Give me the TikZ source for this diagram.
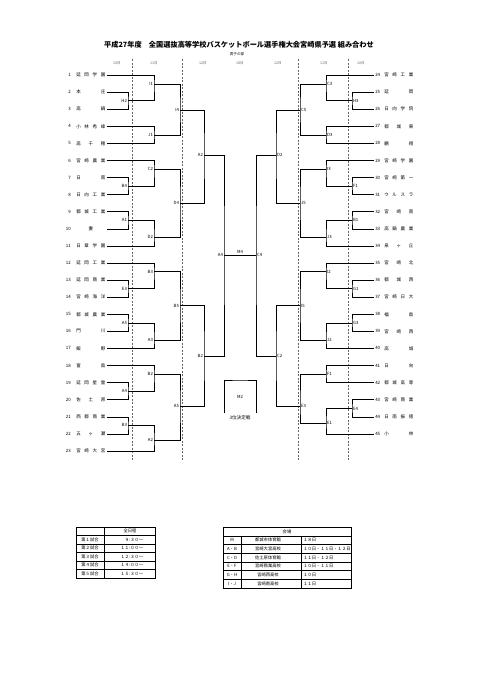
\documentclass[tikz,border=0pt]{standalone}
\usepackage{fontspec}
\setmainfont{Noto Sans CJK JP}
\newcommand{\fsz}[1]{\fontsize{#1}{#1}\selectfont}
\newcommand{\tname}[1]{\makebox[29pt][s]{#1}}

\begin{document}
\begin{tikzpicture}[x=1pt, y=-1pt, line width=0.6pt,
        team/.style={font=\fsz{4.5}, inner sep=1pt, anchor=west},
        numL/.style={font=\fsz{4.4}, inner sep=1pt, anchor=east},
        numR/.style={font=\fsz{4.4}, inner sep=1pt, anchor=west},
        gameL/.style={font=\fsz{4.3}, inner sep=0.8pt, anchor=east},
        gameR/.style={font=\fsz{4.3}, inner sep=0.8pt, anchor=west},
        day/.style={font=\fsz{3.6}, text=black!60},
        divider/.style={black!60, line width=0.4pt, dash pattern=on 2pt off 1.5pt},
        cell/.style={font=\fsz{4.3}, inner sep=0.5pt}]
        \useasboundingbox (0,0) rectangle (481,680);
        \fill[white] (0,0) rectangle (481,680);
        % title
        \node[font=\fsz{7.2}\bfseries] (title) at (239,45) {平成27年度　全国選抜高等学校バスケットボール選手権大会宮崎県予選 組み合わせ};
        \node[font=\fsz{3.6}] (sub) at (237,54) {男子の部};
        % day columns
        \draw[divider] (132,59) -- (132,460);
        \draw[divider] (182,59) -- (182,460);
        \draw[divider] (298,59) -- (298,460);
        \draw[divider] (348,59) -- (348,460);
        \node[day] (day1) at (117,63) {10日};
        \node[day] (day2) at (154,63) {11日};
        \node[day] (day3) at (203,63) {12日};
        \node[day] (day4) at (240,63) {18日};
        \node[day] (day5) at (278,63) {12日};
        \node[day] (day6) at (324,63) {11日};
        \node[day] (day7) at (361,63) {10日};
        % teams left
        \node[numL] (n1)  at (72,75)    {1};  \node[team] (t1)  at (75,75)    {\tname{延 岡 学 園}};
        \node[numL] (n2)  at (72,92.1)  {2};  \node[team] (t2)  at (75,92.1)  {\tname{本 庄}};
        \node[numL] (n3)  at (72,109.2) {3};  \node[team] (t3)  at (75,109.2) {\tname{高 鍋}};
        \node[numL] (n4)  at (72,126.3) {4};  \node[team] (t4)  at (75,126.3) {\tname{小 林 秀 峰}};
        \node[numL] (n5)  at (72,143.4) {5};  \node[team] (t5)  at (75,143.4) {\tname{高 千 穂}};
        \node[numL] (n6)  at (72,160.5) {6};  \node[team] (t6)  at (75,160.5) {\tname{宮 崎 農 業}};
        \node[numL] (n7)  at (72,177.5) {7};  \node[team] (t7)  at (75,177.5) {\tname{日 南}};
        \node[numL] (n8)  at (72,194.6) {8};  \node[team] (t8)  at (75,194.6) {\tname{日 向 工 業}};
        \node[numL] (n9)  at (72,211.7) {9};  \node[team] (t9)  at (75,211.7) {\tname{都 城 工 業}};
        \node[numL] (n10) at (72,228.8) {10}; \node[team] (t10) at (75,228.8) {\tname{\hfil 妻\hfil}};
        \node[numL] (n11) at (72,245.9) {11}; \node[team] (t11) at (75,245.9) {\tname{日 章 学 園}};
        \node[numL] (n12) at (72,263)   {12}; \node[team] (t12) at (75,263)   {\tname{延 岡 工 業}};
        \node[numL] (n13) at (72,280.1) {13}; \node[team] (t13) at (75,280.1) {\tname{延 岡 商 業}};
        \node[numL] (n14) at (72,297.2) {14}; \node[team] (t14) at (75,297.2) {\tname{宮 崎 海 洋}};
        \node[numL] (n15) at (72,314.3) {15}; \node[team] (t15) at (75,314.3) {\tname{都 城 農 業}};
        \node[numL] (n16) at (72,331.4) {16}; \node[team] (t16) at (75,331.4) {\tname{門 川}};
        \node[numL] (n17) at (72,348.4) {17}; \node[team] (t17) at (75,348.4) {\tname{飯 野}};
        \node[numL] (n18) at (72,365.5) {18}; \node[team] (t18) at (75,365.5) {\tname{富 島}};
        \node[numL] (n19) at (72,382.6) {19}; \node[team] (t19) at (75,382.6) {\tname{延 岡 星 雲}};
        \node[numL] (n20) at (72,399.7) {20}; \node[team] (t20) at (75,399.7) {\tname{佐 土 原}};
        \node[numL] (n21) at (72,416.8) {21}; \node[team] (t21) at (75,416.8) {\tname{西 都 商 業}};
        \node[numL] (n22) at (72,433.9) {22}; \node[team] (t22) at (75,433.9) {\tname{五 ヶ 瀬}};
        \node[numL] (n23) at (72,451)   {23}; \node[team] (t23) at (75,451)   {\tname{宮 崎 大 宮}};
        % teams right
        \node[numR] (n24) at (374,75)    {24}; \node[team] (t24) at (383,75)    {\tname{宮 崎 工 業}};
        \node[numR] (n25) at (374,92.1)  {25}; \node[team] (t25) at (383,92.1)  {\tname{延 岡}};
        \node[numR] (n26) at (374,109.2) {26}; \node[team] (t26) at (383,109.2) {\tname{日 向 学 院}};
        \node[numR] (n27) at (374,126.3) {27}; \node[team] (t27) at (383,126.3) {\tname{都 城 東}};
        \node[numR] (n28) at (374,143.4) {28}; \node[team] (t28) at (383,143.4) {\tname{鵬 翔}};
        \node[numR] (n29) at (374,160.5) {29}; \node[team] (t29) at (383,160.5) {\tname{宮 崎 学 園}};
        \node[numR] (n30) at (374,177.5) {30}; \node[team] (t30) at (383,177.5) {\tname{宮 崎 第 一}};
        \node[numR] (n31) at (374,194.6) {31}; \node[team] (t31) at (383,194.6) {\tname{ウ ル ス ラ}};
        \node[numR] (n32) at (374,211.7) {32}; \node[team] (t32) at (383,211.7) {\tname{宮 崎 南}};
        \node[numR] (n33) at (374,228.8) {33}; \node[team] (t33) at (383,228.8) {\tname{高 鍋 農 業}};
        \node[numR] (n34) at (374,245.9) {34}; \node[team] (t34) at (383,245.9) {\tname{泉 ヶ 丘}};
        \node[numR] (n35) at (374,263)   {35}; \node[team] (t35) at (383,263)   {\tname{宮 崎 北}};
        \node[numR] (n36) at (374,280.1) {36}; \node[team] (t36) at (383,280.1) {\tname{都 城 西}};
        \node[numR] (n37) at (374,297.2) {37}; \node[team] (t37) at (383,297.2) {\tname{宮 崎 日 大}};
        \node[numR] (n38) at (374,314.3) {38}; \node[team] (t38) at (383,314.3) {\tname{福 島}};
        \node[numR] (n39) at (374,331.4) {39}; \node[team] (t39) at (383,331.4) {\tname{宮 崎 西}};
        \node[numR] (n40) at (374,348.4) {40}; \node[team] (t40) at (383,348.4) {\tname{高 城}};
        \node[numR] (n41) at (374,365.5) {41}; \node[team] (t41) at (383,365.5) {\tname{日 向}};
        \node[numR] (n42) at (374,382.6) {42}; \node[team] (t42) at (383,382.6) {\tname{都 城 高 専}};
        \node[numR] (n43) at (374,399.7) {43}; \node[team] (t43) at (383,399.7) {\tname{宮 崎 商 業}};
        \node[numR] (n44) at (374,416.8) {44}; \node[team] (t44) at (383,416.8) {\tname{日 南 振 徳}};
        \node[numR] (n45) at (374,433.9) {45}; \node[team] (t45) at (383,433.9) {\tname{小 林}};
        % left first round
        \node[gameL] (h2) at (128,100.6) {H2}; \draw (t2.east)  -| (h2.east) |- (t3.east);
        \node[gameL] (b4) at (128,186)   {B4}; \draw (t7.east)  -| (b4.east) |- (t8.east);
        \node[gameL] (a1) at (128,220.2) {A1}; \draw (t9.east)  -| (a1.east) |- (t10.east);
        \node[gameL] (e3) at (128,288.6) {E3}; \draw (t13.east) -| (e3.east) |- (t14.east);
        \node[gameL] (a5) at (128,322.8) {A5}; \draw (t15.east) -| (a5.east) |- (t16.east);
        \node[gameL] (a4) at (128,391.1) {A4}; \draw (t19.east) -| (a4.east) |- (t20.east);
        \node[gameL] (b3) at (128,425.3) {B3}; \draw (t21.east) -| (b3.east) |- (t22.east);
        % left second round
        \node[gameL] (i1)  at (154,84)    {I1}; \draw (t1.east)  -| (i1.east)  |- (h2.east);
        \node[gameL] (j1)  at (154,134.8) {J1}; \draw (t4.east)  -| (j1.east)  |- (t5.east);
        \node[gameL] (c2)  at (154,169)   {C2}; \draw (t6.east)  -| (c2.east)  |- (b4.east);
        \node[gameL] (d2)  at (154,237.4) {D2}; \draw (a1.east)  -| (d2.east)  |- (t11.east);
        \node[gameL] (b3b) at (154,271.5) {B3}; \draw (t12.east) -| (b3b.east) |- (e3.east);
        \node[gameL] (a3)  at (154,339.9) {A3}; \draw (a5.east)  -| (a3.east)  |- (t17.east);
        \node[gameL] (b2)  at (154,374)   {B2}; \draw (t18.east) -| (b2.east)  |- (a4.east);
        \node[gameL] (a2)  at (154,440)   {A2}; \draw (b3.east)  -| (a2.east)  |- (t23.east);
        % left third round
        \node[gameL] (i4)  at (180,110)   {I4}; \draw (i1.east)  -| (i4.east)  |- (j1.east);
        \node[gameL] (d4)  at (180,203)   {D4}; \draw (c2.east)  -| (d4.east)  |- (d2.east);
        \node[gameL] (b5)  at (180,305.7) {B5}; \draw (b3b.east) -| (b5.east)  |- (a3.east);
        \node[gameL] (a5b) at (180,406)   {A5}; \draw (b2.east)  -| (a5b.east) |- (a2.east);
        % left quarter and semi
        \node[gameL] (a2b) at (204,155)   {A2}; \draw (i4.east)  -| (a2b.east) |- (d4.east);
        \node[gameL] (b2b) at (204,356)   {B2}; \draw (b5.east)  -| (b2b.east) |- (a5b.east);
        \node[gameL] (a4b) at (224,255)   {A4}; \draw (a2b.east) -| (a4b.east) |- (b2b.east);
        % right first round
        \node[gameR] (h3) at (352,100.6) {H3}; \draw (n25.west) -| (h3.west) |- (n26.west);
        \node[gameR] (f1) at (352,186)   {F1}; \draw (n30.west) -| (f1.west) |- (n31.west);
        \node[gameR] (b1) at (352,220.2) {B1}; \draw (n32.west) -| (b1.west) |- (n33.west);
        \node[gameR] (g1) at (352,288.6) {G1}; \draw (n36.west) -| (g1.west) |- (n37.west);
        \node[gameR] (g3) at (352,322.8) {G3}; \draw (n38.west) -| (g3.west) |- (n39.west);
        \node[gameR] (e4) at (352,408.5) {E4}; \draw (n43.west) -| (e4.west) |- (n44.west);
        % right second round
        \node[gameR] (c3)  at (326,84)    {C3}; \draw (n24.west) -| (c3.west)  |- (h3.west);
        \node[gameR] (d3)  at (326,134.8) {D3}; \draw (n27.west) -| (d3.west)  |- (n28.west);
        \node[gameR] (i3)  at (326,169)   {I3}; \draw (n29.west) -| (i3.west)  |- (f1.west);
        \node[gameR] (j3)  at (326,237.4) {J3}; \draw (b1.west)  -| (j3.west)  |- (n34.west);
        \node[gameR] (i2)  at (326,271.5) {I2}; \draw (n35.west) -| (i2.west)  |- (g1.west);
        \node[gameR] (j2)  at (326,339.9) {J2}; \draw (g3.west)  -| (j2.west)  |- (n40.west);
        \node[gameR] (f1b) at (326,374)   {F1}; \draw (n41.west) -| (f1b.west) |- (n42.west);
        \node[gameR] (e1)  at (326,423)   {E1}; \draw (e4.west)  -| (e1.west)  |- (n45.west);
        % right third round
        \node[gameR] (c5)  at (300,110)   {C5}; \draw (c3.west)  -| (c5.west)  |- (d3.west);
        \node[gameR] (j5)  at (300,203)   {J5}; \draw (i3.west)  -| (j5.west)  |- (j3.west);
        \node[gameR] (i5)  at (300,305.7) {I5}; \draw (i2.west)  -| (i5.west)  |- (j2.west);
        \node[gameR] (e3b) at (300,406)   {E3}; \draw (f1b.west) -| (e3b.west) |- (e1.west);
        % right quarter and semi
        \node[gameR] (d2b) at (276,155)   {D2}; \draw (c5.west)  -| (d2b.west) |- (j5.west);
        \node[gameR] (c2b) at (276,356)   {C2}; \draw (i5.west)  -| (c2b.west) |- (e3b.west);
        \node[gameR] (c4)  at (256,255)   {C4}; \draw (d2b.west) -| (c4.west)  |- (c2b.west);
        % final
        \draw (a4b.east) -- (c4.west) node[midway, above, font=\fsz{4.3}, inner sep=1pt] (m4) {M4};
        % third place game
        \coordinate (m2l) at (224,413);
        \coordinate (m2t) at (240,380);
        \coordinate (m2r) at (256,413);
        \draw (m2l) |- (m2t) -| (m2r);
        \node[font=\fsz{4.3}] (m2) at (240,397) {M2};
        \node[font=\fsz{4.6}] (m2note) at (240,418) {3位決定戦};
        % time table
        \draw[line width=0.8pt] (76,527) rectangle (155,578);
        \draw[line width=0.4pt] (76,535.5) -- (155,535.5) (76,544) -- (155,544) (76,552.5) -- (155,552.5)
            (76,561) -- (155,561) (76,569.5) -- (155,569.5) (104,527) -- (104,578);
        \node[cell] (s0)  at (130,531.25) {全日程};
        \node[cell] (s1a) at (90,539.75)  {第１試合}; \node[cell, anchor=east] (s1b) at (144,539.75) {９:３０～};
        \node[cell] (s2a) at (90,548.25)  {第２試合}; \node[cell, anchor=east] (s2b) at (144,548.25) {１１:００～};
        \node[cell] (s3a) at (90,556.75)  {第３試合}; \node[cell, anchor=east] (s3b) at (144,556.75) {１２:３０～};
        \node[cell] (s4a) at (90,565.25)  {第４試合}; \node[cell, anchor=east] (s4b) at (144,565.25) {１４:００～};
        \node[cell] (s5a) at (90,573.75)  {第５試合}; \node[cell, anchor=east] (s5b) at (144,573.75) {１５:３０～};
        % venue table
        \draw[line width=0.8pt] (223,527) rectangle (351,588);
        \draw[line width=0.4pt] (223,535.7) -- (351,535.7) (223,544.4) -- (351,544.4) (223,553.1) -- (351,553.1)
            (223,561.9) -- (351,561.9) (223,570.6) -- (351,570.6) (223,579.3) -- (351,579.3)
            (241,535.7) -- (241,588) (301,535.7) -- (301,588);
        \node[cell] (v0) at (287,531.4) {会場};
        \node[cell] (v1a) at (232,540.1) {M};   \node[cell] (v1b) at (268,540.1) {都城市体育館}; \node[cell, anchor=west] (v1c) at (302.5,540.1) {１８日};
        \node[cell] (v2a) at (232,548.8) {A・B}; \node[cell] (v2b) at (268,548.8) {宮崎大宮高校}; \node[cell, anchor=west] (v2c) at (302.5,548.8) {１０日・１１日・１２日};
        \node[cell] (v3a) at (232,557.5) {C・D}; \node[cell] (v3b) at (268,557.5) {佐土原体育館}; \node[cell, anchor=west] (v3c) at (302.5,557.5) {１１日・１２日};
        \node[cell] (v4a) at (232,566.2) {E・F}; \node[cell] (v4b) at (268,566.2) {宮崎商業高校}; \node[cell, anchor=west] (v4c) at (302.5,566.2) {１０日・１１日};
        \node[cell] (v5a) at (232,575.0) {G・H}; \node[cell] (v5b) at (268,575.0) {宮崎西高校};   \node[cell, anchor=west] (v5c) at (302.5,575.0) {１０日};
        \node[cell] (v6a) at (232,583.7) {I・J}; \node[cell] (v6b) at (268,583.7) {宮崎南高校};   \node[cell, anchor=west] (v6c) at (302.5,583.7) {１１日};
    \end{tikzpicture}
\end{document}
